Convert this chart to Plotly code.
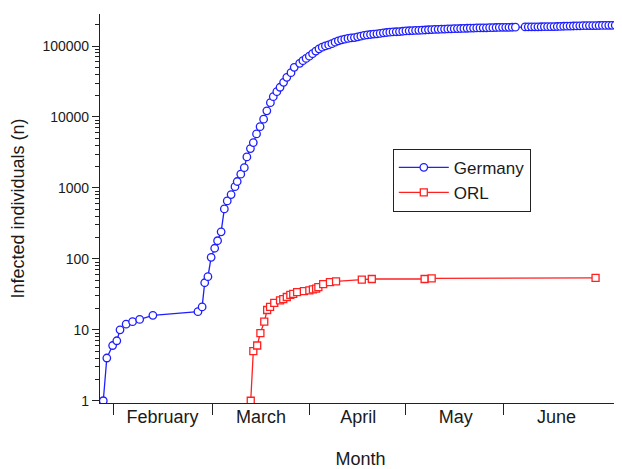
import plotly.graph_objects as go

# ---------------- data (day index on the time axis, cumulative counts) ----------------
germany_days = [
    0, 1.1, 2.9, 4.2, 5.2, 7.1, 9.1, 11.3, 15.4,
    29.4, 30.7, 31.5, 32.5, 33.5, 34.6, 35.5, 36.6, 37.6, 38.5, 39.7, 40.9, 41.6,
    42.7, 43.8, 44.6, 45.7, 46.6, 47.6, 48.7, 49.8, 50.8, 51.9, 52.8, 53.9, 54.9,
    56.0, 57.0, 58.3, 59.3,
    61, 62, 63, 64, 65, 66, 67, 68, 69, 70, 71, 72, 73, 74, 75, 76, 77, 78, 79, 80,
    81, 82, 83, 84, 85, 86, 87, 88, 89, 90, 91, 92, 93, 94, 95, 96, 97, 98, 99, 100,
    101, 102, 103, 104, 105, 106, 107, 108, 109, 110, 111, 112, 113, 114, 115, 116,
    117, 118, 119, 120, 121, 122, 123, 124, 125, 126, 127, 128,
    131, 132, 133, 134, 135, 136, 137, 138, 139, 140, 141, 142, 143, 144, 145, 146,
    147, 148, 149, 150, 151, 152, 153, 154, 155, 156, 157, 158, 159,
]
germany_cases = [
    1, 4, 6, 7, 10, 12, 13, 14, 16,
    18, 21, 46, 56, 105, 141, 180, 240, 505, 655, 805, 1040, 1230,
    1560, 1930, 2730, 3580, 4350, 5770, 7300, 9290, 12200, 15900, 19300, 22700, 26200,
    30800, 36200, 42100, 50100,
    57000, 62100, 66900, 71800, 77900, 84800, 91200, 96100, 100100, 103400, 107700,
    113300, 118200, 122200, 124900, 127900, 130100, 131400, 134800, 137700,
    141400, 143300, 145200, 147100, 148300, 150600, 153100, 155000, 156500, 157800,
    158800, 159900, 161500, 163000, 164100, 165000, 165700, 166200, 167000, 168200,
    169400, 170600, 171300, 171900, 172600, 173200, 174100, 174500, 175200, 175800,
    176400, 176600, 177800, 178500, 179000, 179700, 180000, 180300, 180600, 181200,
    181500, 182200, 182900, 183200, 183400, 183600, 183900, 184100,
    185500, 185800, 186100, 186500, 186500, 186700, 187200, 187300, 187500, 187700,
    188300, 188600, 189800, 190400, 190900, 191400, 192100, 192600, 193200, 193500,
    193800, 194000, 194200, 194500, 194700, 195000, 195400, 195900, 196100,
]

orl_days = [45.8, 46.6, 47.8, 48.8, 50.0, 50.9, 51.8, 53.1, 54.9, 55.9, 57.0, 58.1,
            59.0, 60.2, 62.3, 64.0, 65.1, 66.1, 66.8, 68.3, 70.4, 72.3, 80.3, 83.4,
            99.8, 102.0, 152.9]
orl_cases = [1, 5, 6, 9, 13, 19, 21, 24, 26, 27, 29, 31,
             32, 34, 35, 36, 37, 38, 40, 44, 47, 48, 51, 52,
             52, 53, 54]

month_labels = ["February", "March", "April", "May", "June"]
month_label_days = [18.4, 49.0, 79.2, 109.5, 140.8]
month_boundary_days = [3.3, 33.9, 63.9, 94.0, 124.4]

y_tick_vals = [1, 10, 100, 1000, 10000, 100000]
y_tick_text = ["1", "10", "100", "1000", "10000", "100000"]

# ---------------- figure ----------------
BLUE = "#1f1fff"
RED = "#ff2020"
FONT = "Liberation Sans, Arial, sans-serif"
TXT = "#1a1a1a"

fig = go.Figure()
fig.add_trace(go.Scatter(
    x=germany_days, y=germany_cases, name="Germany", mode="lines+markers",
    line=dict(color=BLUE, width=1.3),
    marker=dict(symbol="circle", size=7.5, color="white", line=dict(color=BLUE, width=1.3)),
))
fig.add_trace(go.Scatter(
    x=orl_days, y=orl_cases, name="ORL", mode="lines+markers",
    line=dict(color=RED, width=1.3),
    marker=dict(symbol="square", size=7, color="white", line=dict(color=RED, width=1.3)),
))

minor_y = []
for dec in [1, 10, 100, 1000, 10000, 100000]:
    for k in range(2, 10):
        v = dec * k
        if v < 290000:
            minor_y.append(v)

# the page body has an 8px margin, so the figure is sized to fit the window
fig.update_layout(
    width=614, height=461,
    margin=dict(l=92, r=1, t=6, b=66),
    paper_bgcolor="white", plot_bgcolor="white",
    font=dict(family=FONT, color=TXT),
    showlegend=True,
    legend=dict(
        x=0.562, y=0.5725, xanchor="left", yanchor="middle",
        bgcolor="white", bordercolor="#222222", borderwidth=1,
        font=dict(size=17, family=FONT, color=TXT),
        itemwidth=50, tracegroupgap=0,
        entrywidth=142, entrywidthmode="pixels",
    ),
    xaxis=dict(
        range=[-1.02, 160.8],
        showgrid=False, zeroline=False,
        showline=True, linecolor="#222222", linewidth=1.2,
        tickmode="array", tickvals=month_label_days, ticktext=month_labels,
        ticks="", ticklabelstandoff=-3,
        tickfont=dict(size=18, family=FONT, color=TXT),
        minor=dict(tickmode="array", tickvals=month_boundary_days, ticks="outside",
                   ticklen=11, tickwidth=1.2, tickcolor="#222222", showgrid=False),
        title=dict(text="Month", font=dict(size=18, family=FONT, color=TXT), standoff=29),
        automargin=False,
    ),
    yaxis=dict(
        type="log", range=[-0.032, 5.451],
        showgrid=False, zeroline=False,
        showline=True, linecolor="#222222", linewidth=1.2,
        tickmode="array", tickvals=y_tick_vals, ticktext=y_tick_text,
        ticks="outside", ticklen=7, tickwidth=1.2, tickcolor="#222222",
        tickfont=dict(size=14, family=FONT, color=TXT),
        minor=dict(tickmode="array", tickvals=minor_y, ticks="outside",
                   ticklen=4, tickwidth=1, tickcolor="#222222", showgrid=False),
        title=dict(text="Infected individuals (n)", font=dict(size=18, family=FONT, color=TXT),
                   standoff=14),
        automargin=False,
    ),
)

fig.write_html("out.html")
